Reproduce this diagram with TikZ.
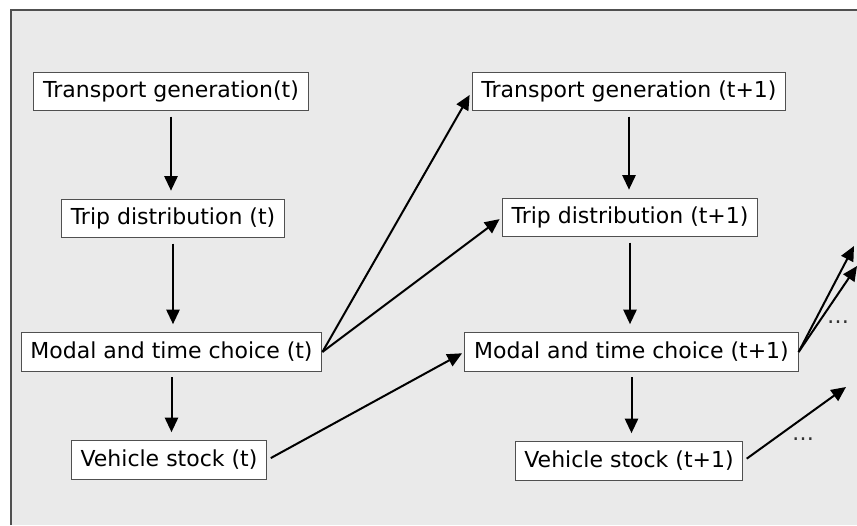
\documentclass[tikz,border=0pt]{standalone}
\usepackage{fontspec}
\setmainfont{DejaVu Sans}
\usetikzlibrary{arrows.meta}
\definecolor{panelgrey}{HTML}{EAEAEA}
\definecolor{framegrey}{HTML}{505050}
\begin{document}
\begin{tikzpicture}[x=0.75pt,y=-0.75pt,
  box/.style={draw=framegrey,fill=white,line width=0.75pt,inner xsep=7pt,minimum height=29pt,font=\fontsize{16.5}{18}\selectfont},
  flow/.style={line width=1.5pt,-{Triangle[length=11pt,width=10pt]}},
  dots/.style={anchor=base,text=black!80,font=\fontsize{16.5}{18}\selectfont}]
\useasboundingbox (0,0) rectangle (857,525);
\fill[white] (0,0) rectangle (857,525);
\fill[panelgrey] (11,10) rectangle (857,525);
\draw[framegrey,line width=1.2pt] (11,525) -- (11,10) -- (857,10);

% period t
\node[box] (TGt) at (171,91.5) {Transport generation(t)};
\node[box] (TDt) at (173,218.5) {Trip distribution (t)};
\node[box] (MTt) at (171.5,352) {Modal and time choice (t)};
\node[box] (VSt) at (169,460) {Vehicle stock (t)};

% period t+1
\node[box] (TGn) at (629,91.5) {Transport generation (t+1)};
\node[box] (TDn) at (630,217.5) {Trip distribution (t+1)};
\node[box] (MTn) at (631.5,352) {Modal and time choice (t+1)};
\node[box] (VSn) at (629,461) {Vehicle stock (t+1)};

\coordinate (o1) at (854,246);
\coordinate (o2) at (857,266);
\coordinate (o3) at (846,387);

\draw[flow,shorten <=4pt,shorten >=6pt] (TGt.south) -- (TGt.south |- TDt.north);
\draw[flow,shorten <=4pt,shorten >=6pt] (TDt.south) -- (TDt.south |- MTt.north);
\draw[flow,shorten <=4pt,shorten >=6pt] (MTt.south) -- (MTt.south |- VSt.north);
\draw[flow,shorten <=4pt,shorten >=6pt] (TGn.south) -- (TGn.south |- TDn.north);
\draw[flow,shorten <=4pt,shorten >=6pt] (TDn.south) -- (TDn.south |- MTn.north);
\draw[flow,shorten <=4pt,shorten >=6pt] (MTn.south) -- (MTn.south |- VSn.north);

\draw[flow,shorten >=3pt] (MTt.east) -- (TGn.west);
\draw[flow,shorten >=2pt] (MTt.east) -- (TDn.west);
\draw[flow,shorten <=3pt,shorten >=2pt] (VSt.east) -- (MTn.west);
\draw[flow] (MTn.east) -- (o1);
\draw[flow] (MTn.east) -- (o2);
\draw[flow,shorten <=3pt] (VSn.east) -- (o3);

\node[dots] (d1) at (838,323) {…};
\node[dots] (d2) at (803,440) {…};
\end{tikzpicture}
\end{document}
